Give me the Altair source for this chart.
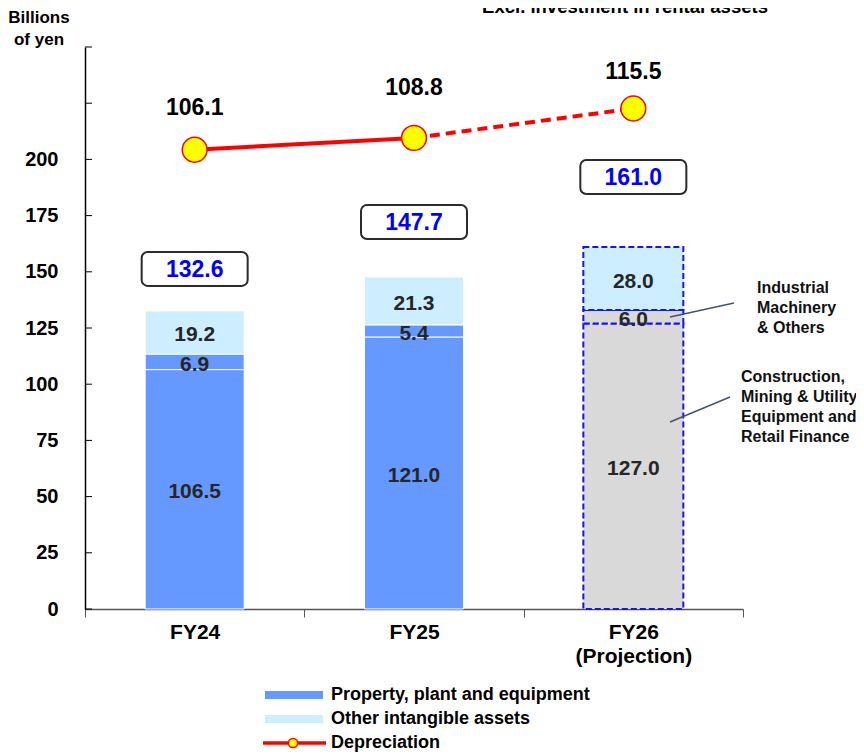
import altair as alt
import pandas as pd

# ---------------- data ----------------
years = ["FY24", "FY25", "FY26"]
construction = [106.5, 121.0, 127.0]   # Construction, Mining & Utility Equipment and Retail Finance
industrial = [6.9, 5.4, 6.0]           # Industrial Machinery & Others
intangible = [19.2, 21.3, 28.0]        # Other intangible assets
totals = [132.6, 147.7, 161.0]
depreciation = [106.1, 108.8, 115.5]
y_ticks = [0, 25, 50, 75, 100, 125, 150, 175, 200, 225, 250]
legend_labels = ["Property, plant and equipment", "Other intangible assets", "Depreciation"]

# ---------------- style ----------------
W, H = 658, 562
YMAX = 250
PPU = H / YMAX
DEP_DOMAIN = [1.5, 129.5]
BLUE = "#6699FF"
LIGHT = "#CCEEFF"
GRAY = "#D9D9D9"
RED = "#FF0000"
FONT = "Liberation Sans"
box_offset_px = {"FY24": 42, "FY25": 55, "FY26": 70}
dep_label_dy = {"FY24": -42, "FY25": -50, "FY26": -36}

rows = []
for i, fy in enumerate(years):
    proj = fy == "FY26"
    base = GRAY if proj else BLUE
    lo = 0.0
    for seg, v, col in [("cmu", construction[i], base), ("ind", industrial[i], base), ("int", intangible[i], LIGHT)]:
        rows.append(dict(fy=fy, seg=seg, lo=lo, hi=lo + v, mid=lo + v / 2, val=v, color=col, proj=proj))
        lo += v
seg_df = pd.DataFrame(rows)

box_rows = []
for fy, t in zip(years, totals):
    c = t + box_offset_px[fy] / PPU
    box_rows.append(dict(fy=fy, total=t, c=c, lo=c - 17 / PPU, hi=c + 17 / PPU))
box_df = pd.DataFrame(box_rows)

dep_df = pd.DataFrame({"fy": years, "dep": depreciation})
tick_df = pd.DataFrame({"v": y_ticks})
one = pd.DataFrame({"a": [0]})

YS = alt.Scale(domain=[0, YMAX], nice=False, zero=True)
DS = alt.Scale(domain=DEP_DOMAIN, nice=False, zero=False)

X = alt.X(
    "fy:N",
    scale=alt.Scale(domain=years, paddingInner=0, paddingOuter=0),
    axis=alt.Axis(
        title=None, labelAngle=0, tickBand="extent", ticks=True, tickSize=8,
        tickColor="#555555", domainColor="#555555", domainWidth=1.5,
        labelFont=FONT, labelFontSize=21, labelFontWeight="bold", labelColor="black",
        labelPadding=4, labelLineHeight=24,
        labelExpr="datum.value == 'FY26' ? ['FY26', '(Projection)'] : datum.value",
    ),
)

y_axis = alt.Axis(
    values=y_ticks, labelExpr="datum.value > 200 ? '' : datum.label", ticks=False,
    domain=True, domainColor="black", domainWidth=1.5, grid=False, title=None,
    labelFont=FONT, labelFontSize=20, labelFontWeight="bold", labelColor="black", labelPadding=27,
)

bars_main = alt.Chart(seg_df).transform_filter("!datum.proj").mark_bar(
    size=99, stroke="white", strokeWidth=1
).encode(
    x=X, y=alt.Y("lo:Q", scale=YS, axis=y_axis), y2="hi:Q", fill=alt.Fill("color:N", scale=None)
)

bars_proj = alt.Chart(seg_df).transform_filter("datum.proj").mark_bar(
    size=100, stroke="#1515F0", strokeWidth=2, strokeDash=[6, 3]
).encode(
    x=X, y=alt.Y("lo:Q", scale=YS, axis=None), y2="hi:Q", fill=alt.Fill("color:N", scale=None)
)

seg_text = alt.Chart(seg_df).mark_text(
    font=FONT, fontSize=21, fontWeight="bold", color="#262626", baseline="middle", dy=3
).encode(
    x=X, y=alt.Y("mid:Q", scale=YS, axis=None), text=alt.Text("val:Q", format=".1f")
)

ticks_in = alt.Chart(tick_df).mark_rule(color="black", strokeWidth=1).encode(
    y=alt.Y("v:Q", scale=YS, axis=None), x=alt.value(0), x2=alt.value(7)
)

boxes = alt.Chart(box_df).mark_bar(
    size=106, cornerRadius=6, fill="white", stroke="#2B2B2B", strokeWidth=2
).encode(x=X, y=alt.Y("lo:Q", scale=YS, axis=None), y2="hi:Q")

box_text = alt.Chart(box_df).mark_text(
    font=FONT, fontSize=23, fontWeight="bold", color="#0000FF", baseline="middle", dy=1
).encode(x=X, y=alt.Y("c:Q", scale=YS, axis=None), text=alt.Text("total:Q", format=".1f"))

line_solid = alt.Chart(dep_df).transform_filter("datum.fy != 'FY26'").mark_line(
    color=RED, strokeWidth=4
).encode(x=X, y=alt.Y("dep:Q", scale=DS, axis=None))

line_dash = alt.Chart(dep_df).transform_filter("datum.fy != 'FY24'").mark_line(
    color=RED, strokeWidth=4, strokeDash=[10, 6]
).encode(x=X, y=alt.Y("dep:Q", scale=DS, axis=None))

dep_points = alt.Chart(dep_df).mark_point(
    shape="circle", filled=True, size=616, fill="#FFFF00", stroke=RED, strokeWidth=1.5, opacity=1
).encode(x=X, y=alt.Y("dep:Q", scale=DS, axis=None))

dep_labels = []
for fy in years:
    dep_labels.append(
        alt.Chart(dep_df).transform_filter(f"datum.fy == '{fy}'").mark_text(
            font=FONT, fontSize=23, fontWeight="bold", color="black", baseline="middle", dy=dep_label_dy[fy]
        ).encode(x=X, y=alt.Y("dep:Q", scale=DS, axis=None), text=alt.Text("dep:Q", format=".1f"))
    )

# ---------------- annotations ----------------
ann_line1 = alt.Chart(one).mark_rule(color="#44546A", strokeWidth=1.5).encode(
    x=alt.value(585), y=alt.value(270), x2=alt.value(649), y2=alt.value(256))
ann_line2 = alt.Chart(one).mark_rule(color="#44546A", strokeWidth=1.5).encode(
    x=alt.value(585), y=alt.value(375), x2=alt.value(645), y2=alt.value(350))
ann_text1 = alt.Chart(one).mark_text(
    font=FONT, fontSize=16, fontWeight="bold", color="#111111", align="left",
    baseline="alphabetic", lineHeight=20
).encode(x=alt.value(672), y=alt.value(246),
         text=alt.value(["Industrial", "Machinery", "& Others"]))
ann_text2 = alt.Chart(one).mark_text(
    font=FONT, fontSize=16, fontWeight="bold", color="#111111", align="left",
    baseline="alphabetic", lineHeight=20
).encode(x=alt.value(656), y=alt.value(335),
         text=alt.value(["Construction,", "Mining & Utility", "Equipment and", "Retail Finance"]))

unit_text = alt.Chart(one).mark_text(
    font=FONT, fontSize=17, fontWeight="bold", color="black", align="center",
    baseline="alphabetic", lineHeight=22
).encode(x=alt.value(-46), y=alt.value(-24), text=alt.value(["Billions", "of yen"]))

top_text = alt.Chart(one).mark_text(
    font=FONT, fontSize=18.5, fontWeight="bold", color="black", align="center", baseline="alphabetic"
).encode(x=alt.value(540), y=alt.value(-34), text=alt.value("Excl. investment in rental assets"))

# ---------------- legend ----------------
leg_y = [648, 672, 696]
leg_bar1 = alt.Chart(one).mark_rule(color=BLUE, strokeWidth=8).encode(
    x=alt.value(180), x2=alt.value(238), y=alt.value(leg_y[0]))
leg_bar2 = alt.Chart(one).mark_rule(color=LIGHT, strokeWidth=8).encode(
    x=alt.value(180), x2=alt.value(238), y=alt.value(leg_y[1]))
leg_line = alt.Chart(one).mark_rule(color=RED, strokeWidth=3.5).encode(
    x=alt.value(178), x2=alt.value(241), y=alt.value(leg_y[2]))
leg_pt = alt.Chart(one).mark_point(
    shape="circle", filled=True, size=85, fill="#FFFF00", stroke=RED, strokeWidth=1.5, opacity=1
).encode(x=alt.value(208), y=alt.value(leg_y[2]))
leg_texts = [
    alt.Chart(one).mark_text(
        font=FONT, fontSize=18, fontWeight="bold", color="black", align="left", baseline="middle"
    ).encode(x=alt.value(246), y=alt.value(yy), text=alt.value(lab))
    for yy, lab in zip(leg_y, legend_labels)
]

chart = alt.layer(
    bars_main, bars_proj, seg_text, ticks_in, boxes, box_text,
    line_solid, line_dash, dep_points, *dep_labels,
    ann_line1, ann_line2, ann_text1, ann_text2, unit_text, top_text,
    leg_bar1, leg_bar2, leg_line, leg_pt, *leg_texts,
).resolve_scale(y="independent").properties(
    width=W, height=H,
    autosize=alt.AutoSizeParams(type="none"),
    padding={"left": 77, "top": 39, "right": 113, "bottom": 146},
).configure_view(stroke=None)

chart.save("out.html", embed_options={"renderer": "svg", "actions": False})
